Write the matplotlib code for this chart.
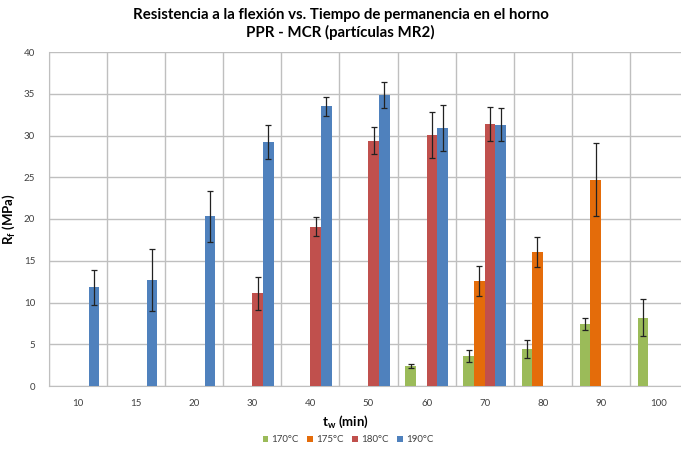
import numpy as np
import matplotlib
matplotlib.use("Agg")
import matplotlib.pyplot as plt

plt.rcParams["font.family"] = ["Lato", "DejaVu Sans"]
# subindices de las etiquetas de eje en la misma letra (negrita)
plt.rcParams["mathtext.fontset"] = "custom"
plt.rcParams["mathtext.rm"] = "Lato:bold"
plt.rcParams["mathtext.it"] = "Lato:bold"
plt.rcParams["mathtext.default"] = "rm"

# tiempo de permanencia (min)
tiempos = ["10", "15", "20", "30", "40", "50", "60", "70", "80", "90", "100"]
series = ["170°C", "175°C", "180°C", "190°C"]
colores = ["#9BBB59", "#E46C0A", "#C0504D", "#4F81BD"]

# resistencia a la flexion (MPa), NaN = sin ensayo
r170 = [np.nan, np.nan, np.nan, np.nan, np.nan, np.nan, 2.4, 3.6, 4.4, 7.4, 8.2]
r175 = [np.nan, np.nan, np.nan, np.nan, np.nan, np.nan, np.nan, 12.6, 16.0, 24.7, np.nan]
r180 = [np.nan, np.nan, np.nan, 11.1, 19.1, 29.4, 30.1, 31.4, np.nan, np.nan, np.nan]
r190 = [11.8, 12.7, 20.3, 29.2, 33.5, 34.9, 30.9, 31.3, np.nan, np.nan, np.nan]

# desviacion estandar
e170 = [0, 0, 0, 0, 0, 0, 0.25, 0.7, 1.1, 0.7, 2.2]
e175 = [0, 0, 0, 0, 0, 0, 0, 1.8, 1.8, 4.35, 0]
e180 = [0, 0, 0, 2.0, 1.1, 1.6, 2.75, 2.0, 0, 0, 0]
e190 = [2.15, 3.75, 3.1, 2.0, 1.15, 1.55, 2.8, 2.0, 0, 0, 0]

valores = [r170, r175, r180, r190]
errores = [e170, e175, e180, e190]

fig = plt.figure(figsize=(6.81, 4.5), dpi=100)
ax = fig.add_axes([49 / 681, 1 - 386 / 450, 639 / 681, 334 / 450])

x = np.arange(len(tiempos))
ancho = 0.183
for i, (vals, errs, nombre, col) in enumerate(zip(valores, errores, series, colores)):
    pos = x + (i - 1.5) * ancho
    ax.bar(pos, vals, width=ancho, color=col, label=nombre, zorder=3)
    v = np.array(vals, dtype=float)
    ok = ~np.isnan(v)
    ax.errorbar(pos[ok], v[ok], yerr=np.array(errs)[ok], fmt="none",
                ecolor="#222222", elinewidth=0.9, capsize=2.5, capthick=0.9, zorder=4)

ax.set_xlim(-0.5, len(tiempos) - 0.5)
ax.set_ylim(0, 40)
ax.set_yticks(range(0, 41, 5))
ax.set_xticks(x)
ax.set_xticklabels(tiempos)
ax.set_xticks(np.arange(-0.5, len(tiempos), 1), minor=True)

ax.grid(axis="y", color="#BFBFBF", linewidth=1.0, zorder=0)
ax.grid(axis="x", which="minor", color="#BFBFBF", linewidth=1.0, zorder=0)
ax.tick_params(which="both", length=0)
ax.tick_params(axis="both", labelsize=7, colors="#404040")
ax.tick_params(axis="y", pad=10)
ax.tick_params(axis="x", pad=9)
for s in ["top", "right"]:
    ax.spines[s].set_visible(False)
for s in ["left", "bottom"]:
    ax.spines[s].set_color("#BFBFBF")

ax.set_ylabel("R$_f$ (MPa)", fontsize=9.5, fontweight="bold")
ax.yaxis.set_label_coords((17 - 49) / 639, 0.5)
ax.set_xlabel("t$_w$ (min)", fontsize=9.5, fontweight="bold")
ax.xaxis.set_label_coords((345 - 49) / 639, (386 - 414) / 334)

fig.text(0.5, 1 - 15 / 450, "Resistencia a la flexión vs. Tiempo de permanencia en el horno",
         ha="center", va="center", fontsize=10.8, fontweight="bold")
fig.text(0.5, 1 - 32 / 450, "PPR - MCR (partículas MR2)",
         ha="center", va="center", fontsize=10.8, fontweight="bold")

fig.legend(loc="center", bbox_to_anchor=(348 / 681, 1 - 440 / 450), ncol=4, frameon=False,
           fontsize=7, handlelength=0.6, handleheight=0.6, handletextpad=0.3,
           columnspacing=0.9, labelcolor="#404040")

fig.savefig("out.png", dpi=100)
